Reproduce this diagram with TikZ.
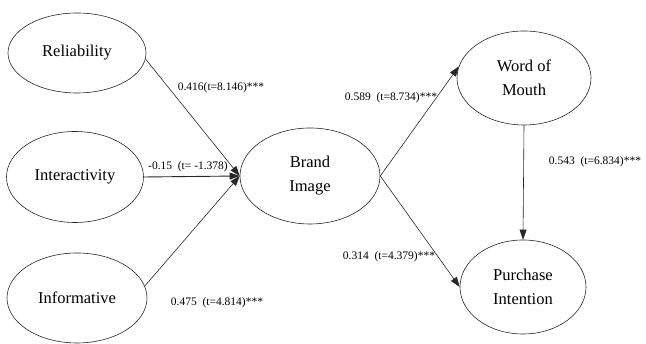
\documentclass[tikz,border=0pt]{standalone}
\usepackage{fontspec}
\setmainfont{Liberation Serif}
\usetikzlibrary{arrows.meta,shapes.geometric}
\begin{document}
\begin{tikzpicture}[x=1pt,y=1pt,
  var/.style={ellipse,draw=black!85,line width=0.6pt,align=center,inner sep=0pt,
    font=\fontsize{16.5}{24}\selectfont},
  path/.style={draw=black!85,line width=0.6pt,-{Triangle[length=10pt,width=7pt]}},
  coef/.style={font=\fontsize{11.5}{13}\selectfont,inner sep=0pt}]
\useasboundingbox (0,0) rectangle (646,344);
\node[var,minimum width=138pt,minimum height=80pt] (rel) at (77,291) {Reliability};
\node[var,minimum width=137pt,minimum height=91pt] (int) at (75,167) {Interactivity};
\node[var,minimum width=140pt,minimum height=90pt] (inf) at (77,46) {Informative};
\node[var,minimum width=140pt,minimum height=96pt] (bi) at (310,168) {Brand\\Image};
\node[var,minimum width=134pt,minimum height=94pt] (wom) at (524,266) {Word of\\Mouth};
\node[var,minimum width=126pt,minimum height=94pt] (pi) at (523,57) {Purchase\\Intention};
\draw[path] (rel.-5) -- (bi.west);
\draw[path,line width=0.9pt] (int.east) -- (bi.west);
\draw[path] (inf.10) -- (bi.west);
\draw[path] (bi.east) -- (wom.170);
\draw[path] (bi.east) -- (pi.west);
\draw[path] (wom.south) -- (pi.north);
\node[coef] (l1) at (221,256) {0.416(t=8.146)***};
\node[coef] (l2) at (188,177) {-0.15\ \ (t= -1.378)};
\node[coef] (l3) at (217,41) {0.475\ \ (t=4.814)***};
\node[coef] (l4) at (391,246) {0.589\ \ (t=8.734)***};
\node[coef] (l5) at (595,182) {0.543\ \ (t=6.834)***};
\node[coef] (l6) at (389,87) {0.314\ \ (t=4.379)***};
\end{tikzpicture}
\end{document}
